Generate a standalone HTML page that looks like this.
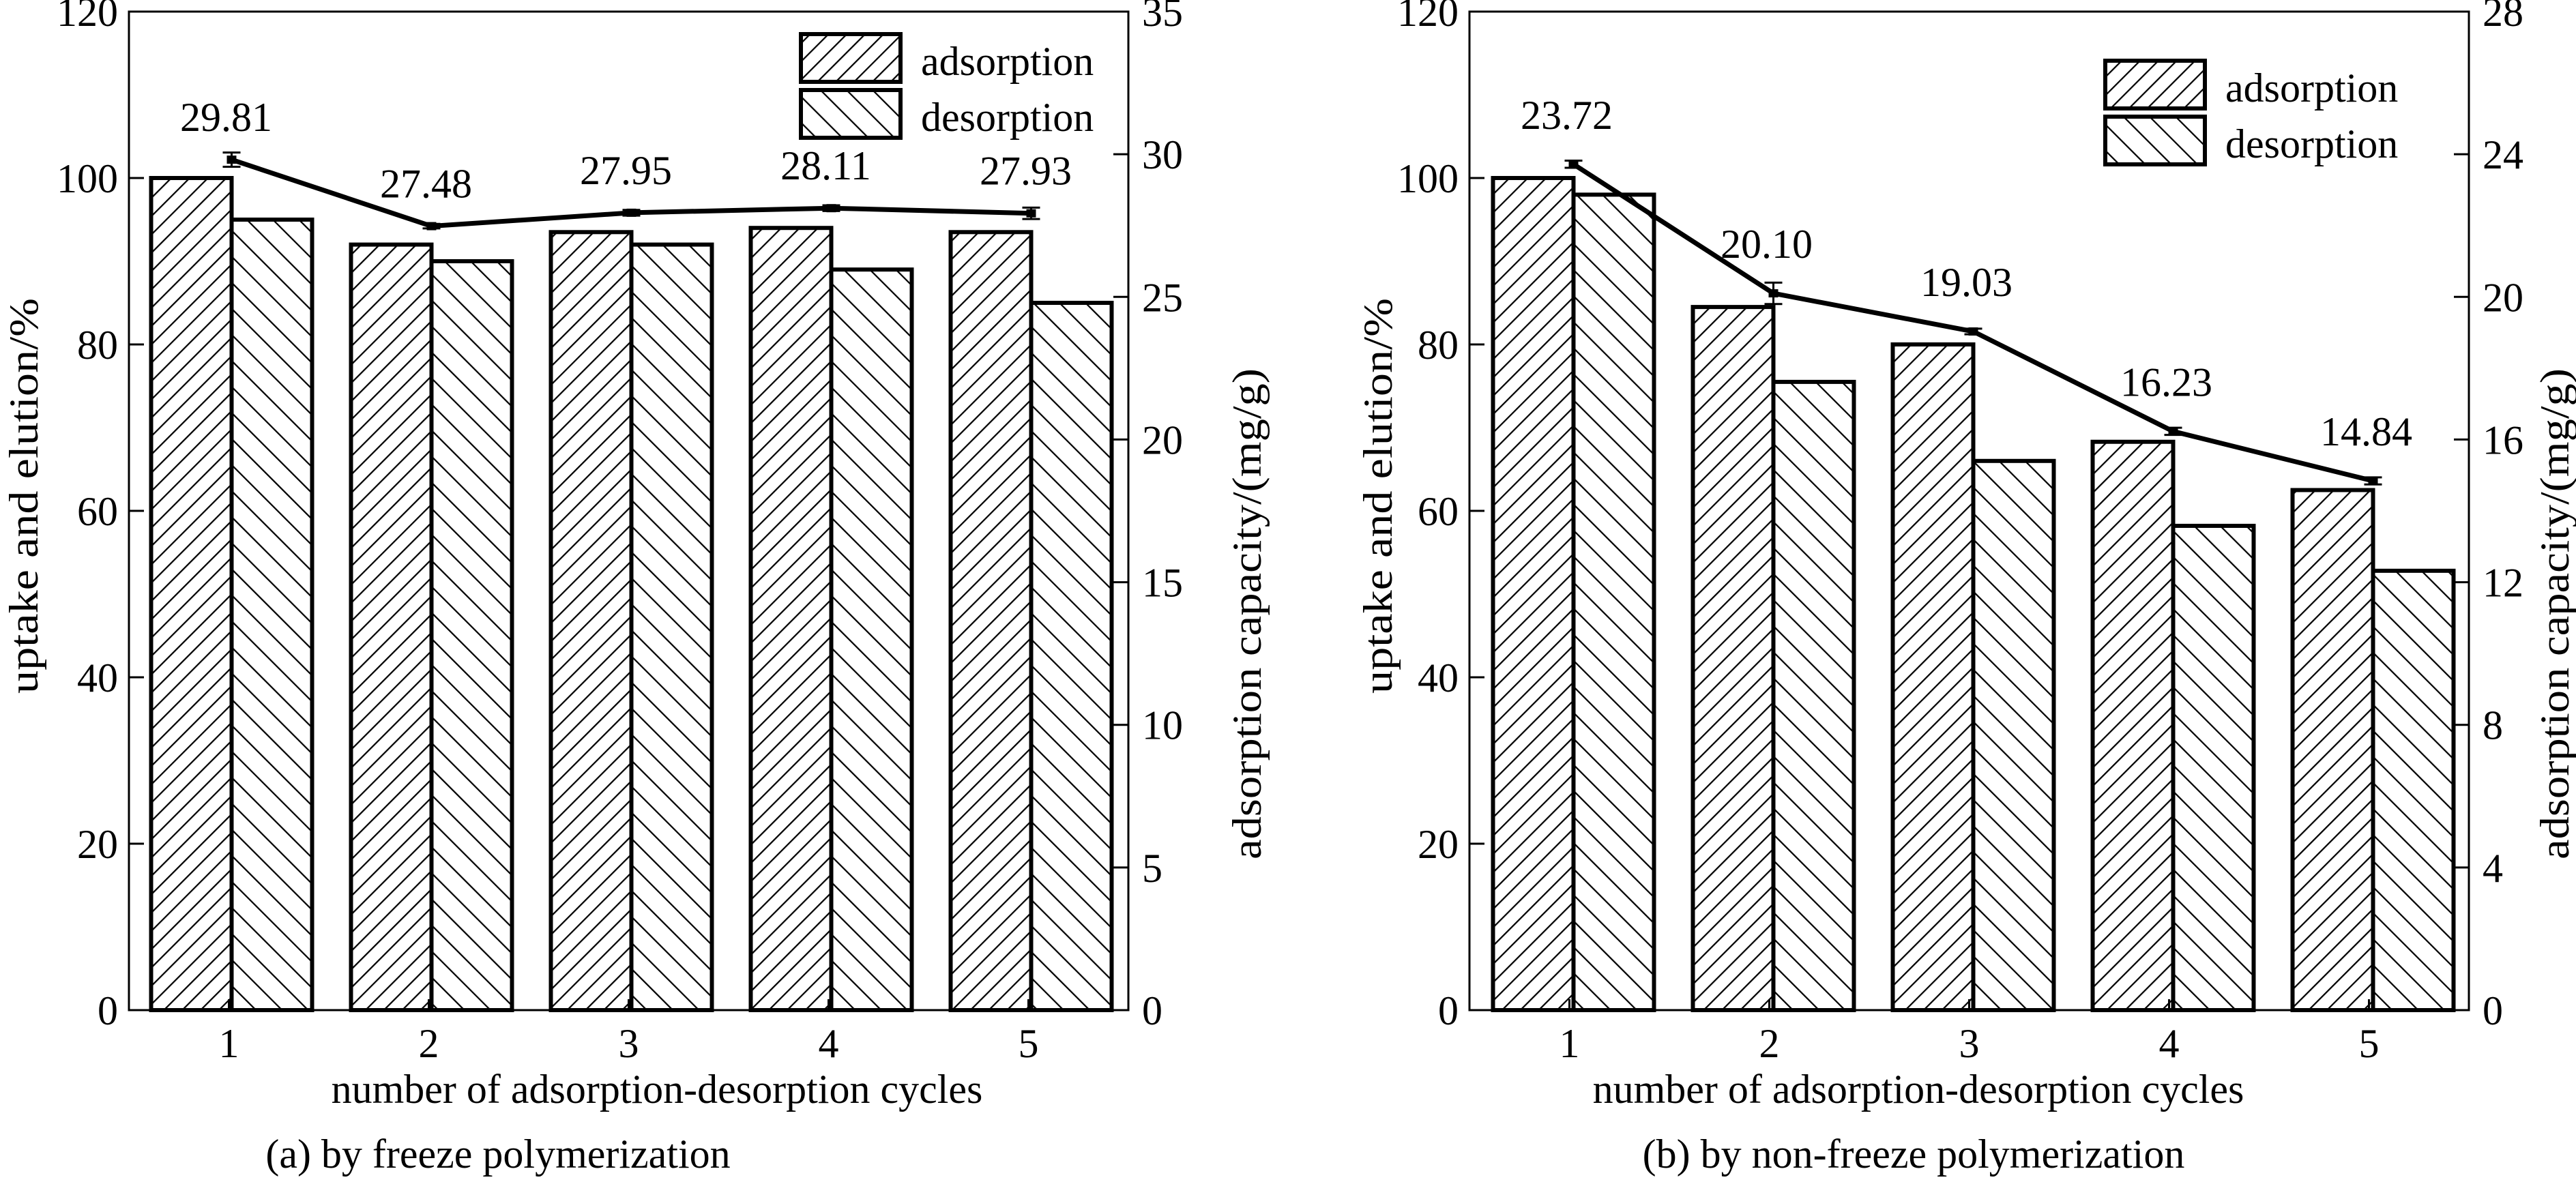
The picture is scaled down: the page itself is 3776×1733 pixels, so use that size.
<!DOCTYPE html>
<html><head><meta charset="utf-8"><style>
html,body{margin:0;padding:0;background:#fff;}
svg{display:block;font-family:"Liberation Serif","DejaVu Serif",serif;}
</style></head><body>
<svg id="chart" width="3776" height="1733" viewBox="0 0 3776 1733" xmlns="http://www.w3.org/2000/svg">
<defs>
<pattern id="hatchA" patternUnits="userSpaceOnUse" width="19" height="19" patternTransform="rotate(45)">
<line x1="0" y1="0" x2="0" y2="19" stroke="#000" stroke-width="4.5"/></pattern>
<pattern id="hatchD" patternUnits="userSpaceOnUse" width="27" height="27" patternTransform="rotate(-45)">
<line x1="0" y1="0" x2="0" y2="27" stroke="#000" stroke-width="4.5"/></pattern>
</defs>
</svg>
<script>
const categories = ["1","2","3","4","5"];
const adsA = [100, 92, 93.5, 94, 93.5];
const desA = [95, 90, 92, 89, 85];
const capA = [29.81, 27.48, 27.95, 28.11, 27.93];
const errA = [0.25, 0.08, 0.1, 0.1, 0.2];
const adsB = [100, 84.5, 80, 68.3, 62.5];
const desB = [98, 75.5, 66, 58.2, 52.8];
const capB = [23.72, 20.10, 19.03, 16.23, 14.84];
const errB = [0.1, 0.3, 0.08, 0.1, 0.1];
const leftTicks = [0,20,40,60,80,100,120];
const rightTicksA = [0,5,10,15,20,25,30,35];
const rightTicksB = [0,4,8,12,16,20,24,28];

const svg = document.getElementById('chart');
const NS = 'http://www.w3.org/2000/svg';
function mk(tag, attrs, parent){const e=document.createElementNS(NS,tag);for(const k in attrs)e.setAttribute(k,attrs[k]);(parent||svg).appendChild(e);return e;}
function txt(s, attrs, parent){const e=mk('text',attrs,parent);e.textContent=s;return e;}

function panel(o){
  const g = mk('g',{});
  
  
  const L=o.left, R=o.left+1465, T=17, B=1481;
  const y = v => B - v/120*(B-T);
  const yr = v => B - v/o.rmax*(B-T);
  const step=(R-L)/categories.length;
  const xc = i => L + (i+0.5)*step;
  categories.forEach((c,i)=>{
    const cx = xc(i)+o.shift;
    let r = mk('rect',{x:cx-118,y:y(o.ads[i]),width:118,height:B-y(o.ads[i]),fill:'url(#hatchA)',stroke:'#000','stroke-width':6},g);
    
    
    r = mk('rect',{x:cx,y:y(o.des[i]),width:118,height:B-y(o.des[i]),fill:'url(#hatchD)',stroke:'#000','stroke-width':6},g);
    
    
  });
  const f = mk('rect',{x:L,y:T,width:R-L,height:B-T,fill:'none',stroke:'#000','stroke-width':3},g);
  
  
  leftTicks.forEach(v=>{
    mk('line',{x1:L,x2:L+22,y1:y(v),y2:y(v),stroke:'#000','stroke-width':3},g);
    const t = txt(String(v),{x:L-16,y:y(v)+21,'font-size':60,'text-anchor':'end'},g);
    
    
  });
  o.rticks.forEach(v=>{
    mk('line',{x1:R-22,x2:R,y1:yr(v),y2:yr(v),stroke:'#000','stroke-width':3},g);
    const t = txt(String(v),{x:R+20,y:yr(v)+21,'font-size':60},g);
    
    
  });
  categories.forEach((c,i)=>{
    mk('line',{x1:xc(i),x2:xc(i),y1:B,y2:B-16,stroke:'#000','stroke-width':3},g);
    const t = txt(c,{x:xc(i),y:1550,'font-size':60,'text-anchor':'middle'},g);
    
    
  });
  const pts = o.cap.map((v,i)=>(xc(i)+o.shift)+','+yr(v)).join(' ');
  const pl = mk('polyline',{points:pts,fill:'none',stroke:'#000','stroke-width':7},g);
  
  
  o.cap.forEach((v,i)=>{
    const x=xc(i)+o.shift, e=o.err[i];
    mk('line',{x1:x,x2:x,y1:yr(v+e),y2:yr(v-e),stroke:'#000','stroke-width':3},g);
    mk('line',{x1:x-13,x2:x+13,y1:yr(v+e),y2:yr(v+e),stroke:'#000','stroke-width':3},g);
    mk('line',{x1:x-13,x2:x+13,y1:yr(v-e),y2:yr(v-e),stroke:'#000','stroke-width':3},g);
    const m = mk('rect',{x:x-7,y:yr(v)-6,width:14,height:12,fill:'#000'},g);
    
    
    const t = txt(v.toFixed(2),{x:xc(i)-4,y:yr(v)-o.lab,'font-size':60,'text-anchor':'middle'},g);
    
    
  });
  const lg = mk('g',{},g);
  
  
  mk('rect',{x:o.lx,y:o.ly,width:146,height:70,fill:'url(#hatchA)',stroke:'#000','stroke-width':6},lg);
  mk('rect',{x:o.lx,y:o.ly+82,width:146,height:70,fill:'url(#hatchD)',stroke:'#000','stroke-width':6},lg);
  let t = txt('adsorption',{x:o.lx+176,y:o.ly+60,'font-size':60},lg);
  
  
  t = txt('desorption',{x:o.lx+176,y:o.ly+142,'font-size':60},lg);
  
  
  t = txt('uptake and elution/%',{x:0,y:0,'font-size':60,'text-anchor':'middle',transform:`translate(${o.ytx},727) rotate(-90)`,textLength:580,lengthAdjust:'spacingAndGlyphs'},g);
  
  
  t = txt('adsorption capacity/(mg/g)',{x:0,y:0,'font-size':60,'text-anchor':'middle',transform:`translate(${o.rtx},900) rotate(-90)`,textLength:720,lengthAdjust:'spacingAndGlyphs'},g);
  
  
  t = txt('number of adsorption-desorption cycles',{x:o.xlx,y:1617,'font-size':60,'text-anchor':'middle'},g);
  
  
  t = txt(o.caption,{x:o.cx,y:1712,'font-size':60,'text-anchor':'middle'},g);
  
  
}
panel({name:'panel-a',left:189,ads:adsA,des:desA,cap:capA,err:errA,rmax:35,rticks:rightTicksA,shift:4,lab:42,lx:1174,ly:50,ytx:55,rtx:1848,xlx:963,cx:730,caption:'(a) by freeze polymerization'});
panel({name:'panel-b',left:2154,ads:adsB,des:desB,cap:capB,err:errB,rmax:28,rticks:rightTicksB,shift:6,lab:52,lx:3086,ly:89,ytx:2040,rtx:3765,xlx:2812,cx:2805,caption:'(b) by non-freeze polymerization'});
</script>
</body></html>
